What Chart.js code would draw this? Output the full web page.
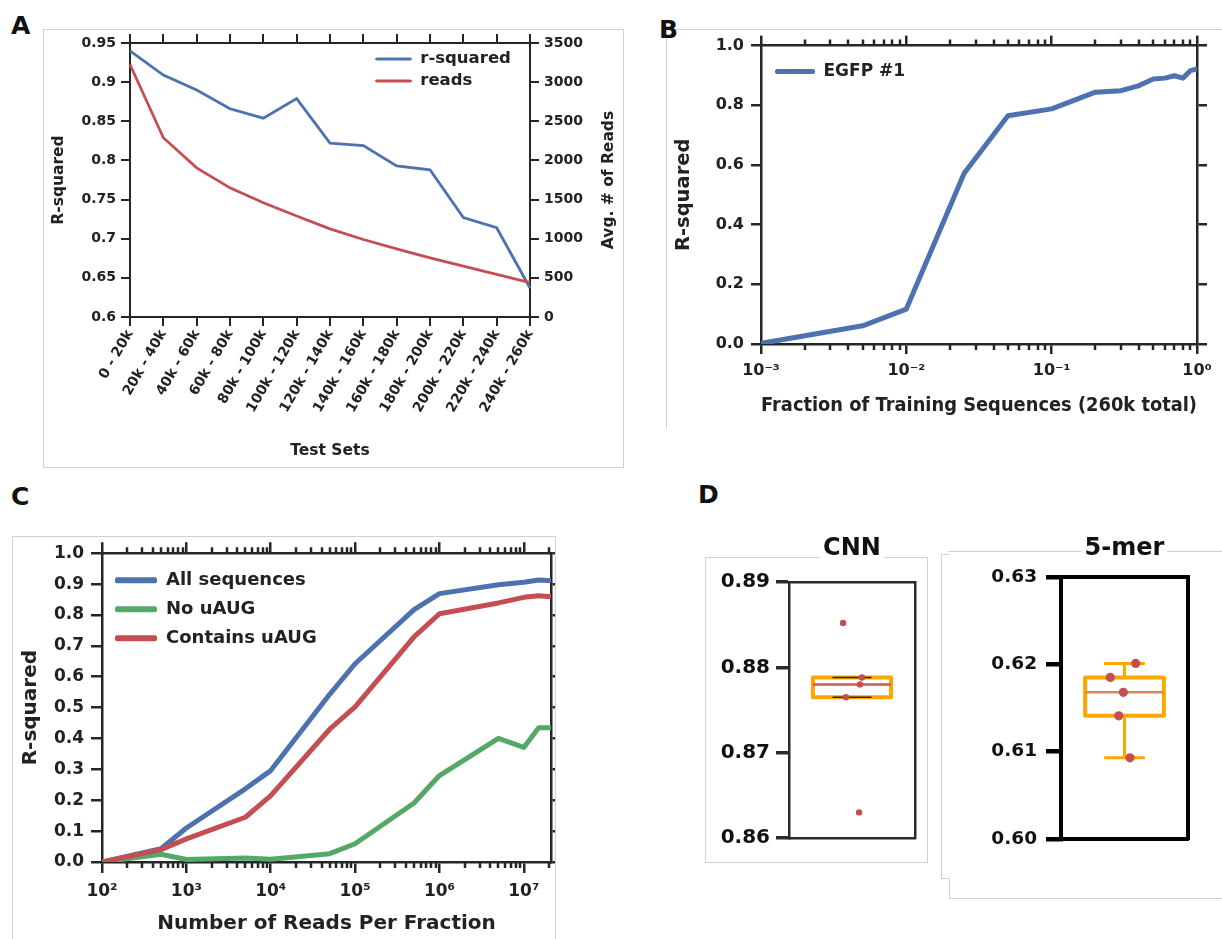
<!DOCTYPE html>
<html>
<head>
<meta charset="utf-8">
<title>Model performance panels</title>
<script src="https://cdn.jsdelivr.net/npm/chart.js@4.4.1/dist/chart.umd.min.js"></script>
<style>
  html, body { margin: 0; padding: 0; background: #fff; }
  #page { position: relative; width: 1222px; height: 939px; overflow: hidden; font-family: 'DejaVu Sans', sans-serif; }
  .frame { position: absolute; box-sizing: border-box; border: 1px solid #d2d2d2; }
  .tag { position: absolute; font: bold 25px 'DejaVu Sans', sans-serif; color: #111; line-height: 1; }
  canvas { position: absolute; }
</style>
</head>
<body>
<div id="page">
  <!-- panel frames -->
  <div class="frame" style="left:43px;top:29px;width:581px;height:439px;"></div>
  <div class="frame" style="left:666px;top:29px;width:600px;height:400px;border-bottom:none;border-right:none;"></div>
  <div class="frame" style="left:12px;top:536px;width:544px;height:420px;border-bottom:none;"></div>
  <div class="frame" style="left:705px;top:557px;width:223px;height:306px;"></div>
  <div class="frame" style="left:948px;top:551px;width:300px;height:1px;border:none;border-top:1px solid #d2d2d2;"></div>
  <div class="frame" style="left:941px;top:554px;width:9px;height:325px;border-right:none;"></div>
  <div class="frame" style="left:949px;top:878px;width:300px;height:21px;border-top:none;border-right:none;"></div>

  <!-- panel letters -->
  <div class="tag" style="left:11px;top:13px;">A</div>
  <div class="tag" style="left:659px;top:17px;">B</div>
  <div class="tag" style="left:11px;top:484px;">C</div>
  <div class="tag" style="left:698px;top:482px;">D</div>

  <canvas id="chartA" width="580" height="438" style="left:43px;top:29px;"></canvas>
  <canvas id="chartB" width="556" height="400" style="left:666px;top:29px;"></canvas>
  <canvas id="chartC" width="543" height="403" style="left:12px;top:536px;"></canvas>
  <canvas id="chartCNN" width="222" height="334" style="left:705px;top:528px;"></canvas>
  <canvas id="chartKmer" width="273" height="370" style="left:949px;top:528px;"></canvas>
</div>

<script>
// ---------- Panel A: performance on held-out test sets ----------
const testSets = ['0 - 20k', '20k - 40k', '40k - 60k', '60k - 80k', '80k - 100k', '100k - 120k',
  '120k - 140k', '140k - 160k', '160k - 180k', '180k - 200k', '200k - 220k', '220k - 240k', '240k - 260k'];
const rSquaredByTestSet = [0.940, 0.909, 0.890, 0.866, 0.854, 0.879, 0.822, 0.819, 0.793, 0.788, 0.727, 0.714, 0.637];
const avgReadsByTestSet = [3225, 2290, 1905, 1650, 1460, 1290, 1125, 990, 870, 755, 650, 545, 440];

// ---------- Panel B: learning curve vs. training-set fraction ----------
const trainingFraction = [0.001, 0.005, 0.01, 0.025, 0.05, 0.1, 0.2, 0.3, 0.4, 0.5, 0.6, 0.7, 0.8, 0.9, 1.0];
const egfpRSquared = [0.002, 0.061, 0.117, 0.572, 0.765, 0.788, 0.844, 0.849, 0.866, 0.888, 0.891, 0.899, 0.891, 0.916, 0.922];
const fractionTickValues = [0.001, 0.01, 0.1, 1];
const fractionTickLabels = ['10⁻³', '10⁻²', '10⁻¹', '10⁰'];

// ---------- Panel C: performance vs. sequencing depth ----------
const readsPerFraction = [1e2, 5e2, 1e3, 5e3, 1e4, 5e4, 1e5, 5e5, 1e6, 5e6, 1e7, 1.5e7, 2.1e7];
const allSeqRSquared = [0.0, 0.043, 0.11, 0.237, 0.296, 0.543, 0.642, 0.817, 0.869, 0.898, 0.906, 0.913, 0.911];
const noUAugRSquared = [0.0, 0.025, 0.008, 0.013, 0.009, 0.027, 0.059, 0.191, 0.280, 0.400, 0.371, 0.435, 0.435];
const withUAugRSquared = [0.0, 0.040, 0.075, 0.145, 0.215, 0.430, 0.502, 0.729, 0.804, 0.839, 0.857, 0.862, 0.859];
const readsTickValues = [1e2, 1e3, 1e4, 1e5, 1e6, 1e7];
const readsTickLabels = ['10²', '10³', '10⁴', '10⁵', '10⁶', '10⁷'];

// ---------- Panel D: replicate scores, CNN vs 5-mer model ----------
const cnnRSquared = [0.8852, 0.8788, 0.8780, 0.8765, 0.8630];
const kmerRSquared = [0.6201, 0.6185, 0.6168, 0.6141, 0.6093];
const cnnTicks = [0.86, 0.87, 0.88, 0.89];
const kmerTicks = [0.60, 0.61, 0.62, 0.63];

// horizontal strip offsets for the replicate dots (fraction of axis width)
const cnnJitter = [-0.071, 0.079, 0.063, -0.048, 0.056];
const kmerJitter = [0.088, -0.112, -0.009, -0.045, 0.043];

// ---------- styling ----------
const FONT = "'DejaVu Sans', sans-serif";
const INK = '#222222';
const DARK = '#262626';
const BLUE = '#4c72b0', RED = '#c44e52', GREEN = '#55a868', ORANGE = '#ffa500';
const font = (size) => ({ family: FONT, size: size, weight: 'bold' });

Chart.defaults.font.family = FONT;
Chart.defaults.font.weight = 'bold';
Chart.defaults.color = INK;

const minorLog = (fromExp, toExp) => {
  const out = [];
  for (let e = fromExp; e <= toExp; e++) for (let m = 2; m <= 9; m++) out.push(m * Math.pow(10, e));
  return out;
};

// legend placement inside the plot, minor log ticks, rotated right-hand title, title backdrop
const panelExtras = {
  id: 'panelExtras',
  afterLayout(chart, args, opts) {
    const lg = chart.legend;
    if (lg && opts.legendAt) {
      const ca = chart.chartArea;
      lg.left = ca.left + opts.legendAt.dx;
      lg.top = ca.top + opts.legendAt.dy;
      lg.right = lg.left + lg.width;
      lg.bottom = ca.bottom;
    }
  },
  beforeDraw(chart, args, opts) {
    if (opts.titleBackdrop && chart.titleBlock) {
      const tb = chart.titleBlock, ctx = chart.ctx;
      const t = chart.options.plugins.title;
      ctx.save();
      ctx.font = 'bold ' + t.font.size + 'px ' + FONT;
      const w = ctx.measureText(t.text).width;
      const cx = (tb.left + tb.right) / 2;
      ctx.fillStyle = '#ffffff';
      ctx.fillRect(cx - w / 2 - 3, tb.top, w + 6, tb.height + 2);
      ctx.restore();
    }
  },
  afterDraw(chart, args, opts) {
    const ctx = chart.ctx;
    (opts.minor || []).forEach((m) => {
      const s = chart.scales[m.axis];
      ctx.save();
      ctx.strokeStyle = m.color;
      ctx.lineWidth = m.width;
      ctx.beginPath();
      m.values.forEach((v) => {
        if (v < s.min || v > s.max) return;
        const p = Math.round(s.getPixelForValue(v));
        if (s.position === 'bottom') { ctx.moveTo(p, s.top); ctx.lineTo(p, s.top + m.length); }
        else { ctx.moveTo(p, s.bottom); ctx.lineTo(p, s.bottom - m.length); }
      });
      ctx.stroke();
      ctx.restore();
    });
    if (opts.sideTitle) {
      const st = opts.sideTitle, s = chart.scales[st.axis], ca = chart.chartArea;
      ctx.save();
      ctx.translate(s.left + st.offset, (ca.top + ca.bottom) / 2);
      ctx.rotate(-Math.PI / 2);
      ctx.font = 'bold ' + st.size + 'px ' + FONT;
      ctx.fillStyle = INK;
      ctx.textAlign = 'center';
      ctx.textBaseline = 'middle';
      ctx.fillText(st.text, 0, 0);
      ctx.restore();
    }
  }
};

const lineLegendLabels = (chart) =>
  Chart.defaults.plugins.legend.labels.generateLabels(chart).map((l) => Object.assign({}, l, {
    lineWidth: 0, fillStyle: l.strokeStyle, borderRadius: 2
  }));

function spineAxis(lineW, color, tickLen, extra) {
  return Object.assign({
    grid: { display: true, drawOnChartArea: false, drawTicks: true, tickLength: tickLen, lineWidth: lineW, color: color },
    border: { display: true, width: lineW, color: color }
  }, extra);
}

const baseOptions = () => ({
  responsive: false,
  animation: false,
  events: [],
  layout: { padding: 0, autoPadding: false },
});

// ================= Panel A =================
new Chart(document.getElementById('chartA'), {
  type: 'line',
  data: {
    labels: testSets,
    datasets: [
      { label: 'r-squared', data: rSquaredByTestSet, yAxisID: 'y', borderColor: BLUE, backgroundColor: BLUE,
        borderWidth: 2.8, pointRadius: 0, tension: 0, order: 1 },
      { label: 'reads', data: avgReadsByTestSet, yAxisID: 'y2', borderColor: RED, backgroundColor: RED,
        borderWidth: 2.8, pointRadius: 0, tension: 0, order: 0 }
    ]
  },
  options: Object.assign(baseOptions(), {
    plugins: {
      tooltip: { enabled: false },
      legend: {
        position: 'chartArea', align: 'start',
        labels: { font: font(16.5), color: INK, boxWidth: 37, boxHeight: 3, padding: 5.5,
          sort: (a, b) => a.datasetIndex - b.datasetIndex, generateLabels: lineLegendLabels, useBorderRadius: true }
      },
      panelExtras: { legendAt: { dx: 239.5, dy: 2.25 }, sideTitle: { axis: 'y2', text: 'Avg. # of Reads', offset: 79, size: 15.5 } }
    },
    scales: {
      x: spineAxis(2, DARK, 9, {
        type: 'category', position: 'bottom',
        ticks: { autoSkip: false, minRotation: 60, maxRotation: 60, font: font(14), color: INK, padding: 1 },
        title: { display: true, text: 'Test Sets', font: font(15.5), color: INK, padding: { top: 0, bottom: 7 } },
        afterFit: (s) => { s.height = 150; }
      }),
      xTop: spineAxis(2, DARK, 9, {
        type: 'category', position: 'top', ticks: { display: false },
        afterFit: (s) => { s.height = 14; }
      }),
      y: spineAxis(2, DARK, 9, {
        type: 'linear', position: 'left', min: 0.6, max: 0.95,
        ticks: { stepSize: 0.05, font: font(14), color: INK, padding: 5, callback: (v) => String(+v.toFixed(2)) },
        title: { display: true, text: 'R-squared', font: font(15.5), color: INK, padding: { top: 6.5, bottom: 0 } },
        afterFit: (s) => { s.width = 87; }
      }),
      y2: spineAxis(2, DARK, 9, {
        type: 'linear', position: 'right', min: 0, max: 3500,
        ticks: { stepSize: 500, font: font(14), color: INK, padding: 5, callback: (v) => String(v) },
        afterFit: (s) => { s.width = 93; }
      })
    }
  }),
  plugins: [panelExtras]
});

// ================= Panel B =================
const fractionMinor = minorLog(-3, -1);
new Chart(document.getElementById('chartB'), {
  type: 'line',
  data: {
    datasets: [
      { label: 'EGFP #1', data: trainingFraction.map((x, i) => ({ x: x, y: egfpRSquared[i] })),
        borderColor: BLUE, backgroundColor: BLUE, borderWidth: 5, pointRadius: 0, tension: 0,
        borderCapStyle: 'round', borderJoinStyle: 'round' }
    ]
  },
  options: Object.assign(baseOptions(), {
    plugins: {
      tooltip: { enabled: false },
      legend: {
        position: 'chartArea', align: 'start',
        labels: { font: font(17), color: INK, boxWidth: 40, boxHeight: 5, padding: 10,
          generateLabels: lineLegendLabels, useBorderRadius: true }
      },
      panelExtras: {
        legendAt: { dx: 4, dy: 7.5 },
        minor: [
          { axis: 'x', values: fractionMinor, length: 6, width: 2.5, color: DARK },
          { axis: 'xTop', values: fractionMinor, length: 6, width: 2.5, color: DARK }
        ]
      }
    },
    scales: {
      x: spineAxis(2.5, DARK, 10, {
        type: 'logarithmic', position: 'bottom', min: 0.001, max: 1,
        afterBuildTicks: (s) => { s.ticks = fractionTickValues.map((v) => ({ value: v, major: true })); },
        ticks: { autoSkip: false, maxRotation: 0, font: font(16), color: INK, padding: 7,
          callback: (v, i) => fractionTickLabels[i] },
        title: { display: true, text: 'Fraction of Training Sequences (260k total)', font: font(19.5), color: INK,
          padding: { top: 0, bottom: 11 } },
        afterFit: (s) => { s.height = 85; }
      }),
      xTop: spineAxis(2.5, DARK, 10, {
        type: 'logarithmic', position: 'top', min: 0.001, max: 1,
        afterBuildTicks: (s) => { s.ticks = fractionTickValues.map((v) => ({ value: v, major: true })); },
        ticks: { display: false },
        afterFit: (s) => { s.height = 15; }
      }),
      y: spineAxis(2.5, DARK, 10, {
        type: 'linear', position: 'left', min: 0, max: 1,
        ticks: { stepSize: 0.2, font: font(16), color: INK, padding: 7, callback: (v) => v.toFixed(1) },
        title: { display: true, text: 'R-squared', font: font(19.5), color: INK, padding: { top: 6, bottom: 0 } },
        afterFit: (s) => { s.width = 95; }
      }),
      yR: spineAxis(2.5, DARK, 10, {
        type: 'linear', position: 'right', min: 0, max: 1,
        ticks: { stepSize: 0.2, display: false },
        afterFit: (s) => { s.width = 25; }
      })
    }
  }),
  plugins: [panelExtras]
});

// ================= Panel C =================
const readsMinor = minorLog(2, 7);
const toPoints = (ys) => readsPerFraction.map((x, i) => ({ x: x, y: ys[i] }));
new Chart(document.getElementById('chartC'), {
  type: 'line',
  data: {
    datasets: [
      { label: 'All sequences', data: toPoints(allSeqRSquared), borderColor: BLUE, backgroundColor: BLUE,
        borderWidth: 5, pointRadius: 0, tension: 0, order: 2, borderJoinStyle: 'round' },
      { label: 'No uAUG', data: toPoints(noUAugRSquared), borderColor: GREEN, backgroundColor: GREEN,
        borderWidth: 5, pointRadius: 0, tension: 0, order: 1, borderJoinStyle: 'round' },
      { label: 'Contains uAUG', data: toPoints(withUAugRSquared), borderColor: RED, backgroundColor: RED,
        borderWidth: 5, pointRadius: 0, tension: 0, order: 0, borderJoinStyle: 'round' }
    ]
  },
  options: Object.assign(baseOptions(), {
    plugins: {
      tooltip: { enabled: false },
      legend: {
        position: 'chartArea', align: 'start',
        labels: { font: font(18), color: INK, boxWidth: 42, boxHeight: 6, padding: 11,
          sort: (a, b) => a.datasetIndex - b.datasetIndex, generateLabels: lineLegendLabels, useBorderRadius: true }
      },
      panelExtras: {
        legendAt: { dx: 2, dy: 7 },
        minor: [
          { axis: 'x', values: readsMinor, length: 6, width: 2.5, color: DARK },
          { axis: 'xTop', values: readsMinor, length: 6, width: 2.5, color: DARK }
        ]
      }
    },
    scales: {
      x: spineAxis(2.5, DARK, 11, {
        type: 'logarithmic', position: 'bottom', min: 1e2, max: 2.1e7,
        afterBuildTicks: (s) => { s.ticks = readsTickValues.map((v) => ({ value: v, major: true })); },
        ticks: { autoSkip: false, maxRotation: 0, font: font(17), color: INK, padding: 8,
          callback: (v, i) => readsTickLabels[i] },
        title: { display: true, text: 'Number of Reads Per Fraction', font: font(20), color: INK,
          padding: { top: 0, bottom: 3 } },
        afterFit: (s) => { s.height = 77; }
      }),
      xTop: spineAxis(2.5, DARK, 11, {
        type: 'logarithmic', position: 'top', min: 1e2, max: 2.1e7,
        afterBuildTicks: (s) => { s.ticks = readsTickValues.map((v) => ({ value: v, major: true })); },
        ticks: { display: false },
        afterFit: (s) => { s.height = 16; }
      }),
      y: spineAxis(2.5, DARK, 11, {
        type: 'linear', position: 'left', min: 0, max: 1,
        ticks: { stepSize: 0.1, font: font(17), color: INK, padding: 7, callback: (v) => v.toFixed(1) },
        title: { display: true, text: 'R-squared', font: font(20), color: INK, padding: { top: 7, bottom: 0 } },
        afterFit: (s) => { s.width = 90; }
      }),
      yR: spineAxis(2.5, DARK, 11, {
        type: 'linear', position: 'right', min: 0, max: 1,
        ticks: { stepSize: 0.1, display: false },
        afterFit: (s) => { s.width = 4; }
      })
    }
  }),
  plugins: [panelExtras]
});

// ================= Panel D: box plots with replicate dots =================
function quantile(sorted, q) {
  const pos = (sorted.length - 1) * q, lo = Math.floor(pos), hi = Math.ceil(pos);
  return sorted[lo] + (sorted[hi] - sorted[lo]) * (pos - lo);
}

function boxPanel(canvasId, title, values, jitter, ticks, look) {
  const sorted = values.slice().sort((a, b) => a - b);
  const q1 = quantile(sorted, 0.25), med = quantile(sorted, 0.5), q3 = quantile(sorted, 0.75);
  const iqr = q3 - q1;
  const whiskerHi = Math.max(...sorted.filter((v) => v <= q3 + 1.5 * iqr));
  const whiskerLo = Math.min(...sorted.filter((v) => v >= q1 - 1.5 * iqr));
  const bw = look.boxHalf, cw = look.capHalf;
  const seg = (pts, color, width, order) => ({
    data: pts, borderColor: color, backgroundColor: color, borderWidth: width, pointRadius: 0,
    tension: 0, order: order, borderCapStyle: 'butt', borderJoinStyle: 'round'
  });

  new Chart(document.getElementById(canvasId), {
    type: 'line',
    data: {
      datasets: [
        { data: values.map((v, i) => ({ x: jitter[i], y: v })), showLine: false, pointRadius: look.dot,
          pointBackgroundColor: RED, pointBorderWidth: 0, order: 0 },
        seg([{ x: -bw, y: med }, { x: bw, y: med }], look.medianColor, look.medianWidth, 1),
        seg([{ x: -cw, y: whiskerHi }, { x: cw, y: whiskerHi }], look.capColor, look.capWidth, 2),
        seg([{ x: -cw, y: whiskerLo }, { x: cw, y: whiskerLo }], look.capColor, look.capWidth, 2),
        seg([{ x: 0, y: q3 }, { x: 0, y: whiskerHi }], ORANGE, look.boxWidth - 1, 3),
        seg([{ x: 0, y: q1 }, { x: 0, y: whiskerLo }], ORANGE, look.boxWidth - 1, 3),
        seg([{ x: -bw, y: q1 }, { x: bw, y: q1 }, { x: bw, y: q3 }, { x: -bw, y: q3 }, { x: -bw, y: q1 }],
          ORANGE, look.boxWidth, 4)
      ]
    },
    options: Object.assign(baseOptions(), {
      plugins: {
        tooltip: { enabled: false },
        legend: { display: false },
        title: { display: true, text: title, fullSize: false, font: font(24), color: '#111',
          padding: { top: 6, bottom: 0 } },
        panelExtras: { titleBackdrop: true }
      },
      scales: {
        x: {
          type: 'linear', position: 'bottom', min: -0.5, max: 0.5,
          ticks: { display: false }, grid: { display: false },
          border: { display: true, width: look.spine, color: look.spineColor },
          afterFit: (s) => { s.height = look.bottom; }
        },
        xTop: {
          type: 'linear', position: 'top', min: -0.5, max: 0.5,
          ticks: { display: false }, grid: { display: false },
          border: { display: true, width: look.spine, color: look.spineColor },
          afterFit: (s) => { s.height = look.top; }
        },
        y: spineAxis(look.spine, look.spineColor, look.tickLen, {
          type: 'linear', position: 'left', min: ticks[0], max: ticks[ticks.length - 1],
          afterBuildTicks: (s) => { s.ticks = ticks.map((v) => ({ value: v })); },
          grid: { display: true, drawOnChartArea: false, drawTicks: true, tickLength: look.tickLen,
            lineWidth: look.tickWidth, color: look.spineColor },
          ticks: { font: font(look.tickFont), color: '#111', padding: look.tickPad, callback: (v) => v.toFixed(2) },
          afterFit: (s) => { s.width = look.left; }
        }),
        yR: {
          type: 'linear', position: 'right', min: ticks[0], max: ticks[ticks.length - 1],
          ticks: { display: false }, grid: { display: false },
          border: { display: true, width: look.spine, color: look.spineColor },
          afterFit: (s) => { s.width = look.right; }
        }
      }
    }),
    plugins: [panelExtras]
  });
}

boxPanel('chartCNN', 'CNN', cnnRSquared, cnnJitter, cnnTicks, {
  boxHalf: 0.31, capHalf: 0.155, dot: 3.2, boxWidth: 4, medianColor: '#c9575a', medianWidth: 2.5,
  capColor: '#2a2a2a', capWidth: 1.5, spine: 2.5, spineColor: '#2a2a2a', tickLen: 13, tickWidth: 3.5,
  tickFont: 20, tickPad: 6, left: 84, right: 12, top: 19.2, bottom: 24
});

boxPanel('chartKmer', '5-mer', kmerRSquared, kmerJitter, kmerTicks, {
  boxHalf: 0.31, capHalf: 0.16, dot: 4.6, boxWidth: 4, medianColor: '#d9875c', medianWidth: 2.5,
  capColor: ORANGE, capWidth: 3, spine: 4, spineColor: '#000000', tickLen: 15, tickWidth: 4.5,
  tickFont: 18.5, tickPad: 9, left: 112, right: 34, top: 14.2, bottom: 59
});
</script>
</body>
</html>
